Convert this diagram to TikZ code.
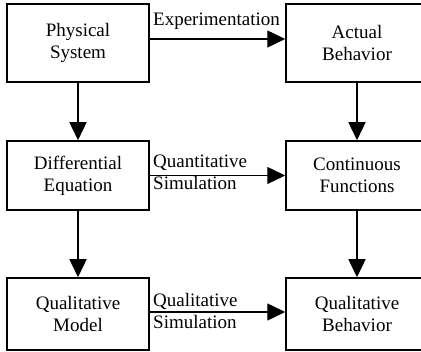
\documentclass[tikz,border=0pt]{standalone}
\usepackage{fontspec}
\setmainfont{Liberation Serif}
\usetikzlibrary{arrows.meta}

\tikzset{
  box/.style={draw, line width=1.5pt, minimum width=142pt, align=center, inner sep=0pt},
  flow/.style={line width=1.4pt, -{Triangle[length=18pt,width=17pt]}},
  lbl/.style={align=left, anchor=west, inner sep=0pt}
}

\begin{document}
\begin{tikzpicture}[x=1pt, y=-1pt, font=\fontsize{19}{22}\selectfont]
  \useasboundingbox (0,0) rectangle (421,352);

  % the boxes, left column and right column
  \node[box, minimum height=78pt] (phys)   at (78,43)    {Physical\\System};
  \node[box, minimum height=78pt] (actual) at (357,43)   {Actual\\Behavior};

  \node[box, minimum height=69pt] (diffeq) at (78,175.5)  {Differential\\Equation};
  \node[box, minimum height=69pt] (contfn) at (357,175.5) {Continuous\\Functions};

  \node[box, minimum height=72pt] (qualmod) at (78,314)  {Qualitative\\Model};
  \node[box, minimum height=72pt] (qualbeh) at (357,314) {Qualitative\\Behavior};

  % arrows across
  \draw[flow] ([yshift=4pt]phys.east) -- ([yshift=4pt]actual.west);
  \draw[flow] (diffeq.east) -- (contfn.west);
  \draw[flow] ([yshift=2pt]qualmod.east) -- ([yshift=2pt]qualbeh.west);

  % arrows down
  \draw[flow] (phys.south) -- (diffeq.north);
  \draw[flow] (diffeq.south) -- (qualmod.north);
  \draw[flow] (actual.south) -- (contfn.north);
  \draw[flow] (contfn.south) -- (qualbeh.north);

  % labels on the arrows
  \node[anchor=base west, inner sep=0pt] (expt) at (153,26) {Experimentation};
  \node[lbl] (qsim) at (153,172) {Quantitative\\Simulation};
  \node[lbl] (lsim) at (153,311) {Qualitative\\Simulation};
\end{tikzpicture}
\end{document}
